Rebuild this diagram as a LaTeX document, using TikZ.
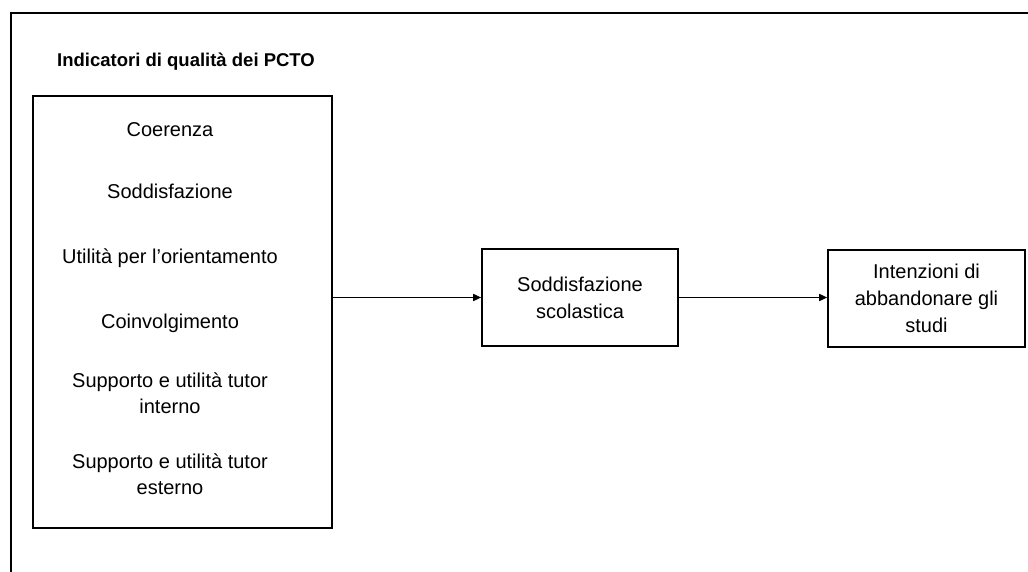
\documentclass[tikz,border=0pt]{standalone}
\usepackage{fontspec}
\setmainfont{Liberation Sans}
\usetikzlibrary{arrows.meta,positioning}
\tikzset{
    x={1pt},
    y={-1pt},
    frame line/.style={
        draw=black,
        line width={2pt},
    },
    model box/.style={
        draw=black,
        line width={1.6pt},
        align=center,
        inner sep=0pt,
        font={\fontsize{20}{27}\selectfont},
    },
    indicator box/.style={
        model box,
        anchor=north west,
        minimum width={299},
        minimum height={432},
    },
    outcome box/.style={
        model box,
        minimum width={196},
        minimum height={97},
    },
    indicator label/.style={
        anchor=base,
        align=center,
        inner sep=0pt,
        font={\fontsize{20}{26}\selectfont},
    },
    group label/.style={
        anchor=base,
        inner sep=0pt,
        font={\fontsize{18.5}{22}\selectfont\bfseries},
    },
    path arrow/.style={
        draw=black,
        line width={1.6pt},
        -{Triangle[length=8pt,width=7pt]},
    },
}

\begin{document}
\begin{tikzpicture}
\useasboundingbox (0,0) rectangle (1028,572);
% frame
\coordinate (frame corner) at (11,13);
\coordinate (frame right) at (1028,13);
\coordinate (frame bottom) at (11,572);
\path[frame line] (frame bottom) -- (frame corner) -- (frame right);
% indicators
\node[group label] (indicators title) at (186,66.5) {Indicatori di qualità dei PCTO};
\node[indicator box] (indicators) at (32,95) {};
\node[indicator label] (coerenza) at (170,137) {Coerenza};
\node[indicator label] (soddisfazione) at (170,199) {Soddisfazione};
\node[indicator label] (utilita) at (170,263) {Utilità per l’orientamento};
\node[indicator label] (coinvolgimento) at (170,328) {Coinvolgimento};
% two-line items: base is the last line
\node[indicator label] (tutor interno) at (170,413) {Supporto e utilità tutor\\interno};
\node[indicator label] (tutor esterno) at (170,494) {Supporto e utilità tutor\\esterno};
% outcomes
\node[outcome box] (soddisfazione scolastica) at (580,297.5) {Soddisfazione\\scolastica};
\node[outcome box, minimum width={197}] (intenzioni) at (926.5,298.5) {Intenzioni di\\abbandonare gli\\studi};
% paths
\path[path arrow] (indicators.east |- soddisfazione scolastica.west) -- (soddisfazione scolastica.west);
\path[path arrow] (soddisfazione scolastica.east) -- (intenzioni.west |- soddisfazione scolastica.east);
\end{tikzpicture}
\end{document}
